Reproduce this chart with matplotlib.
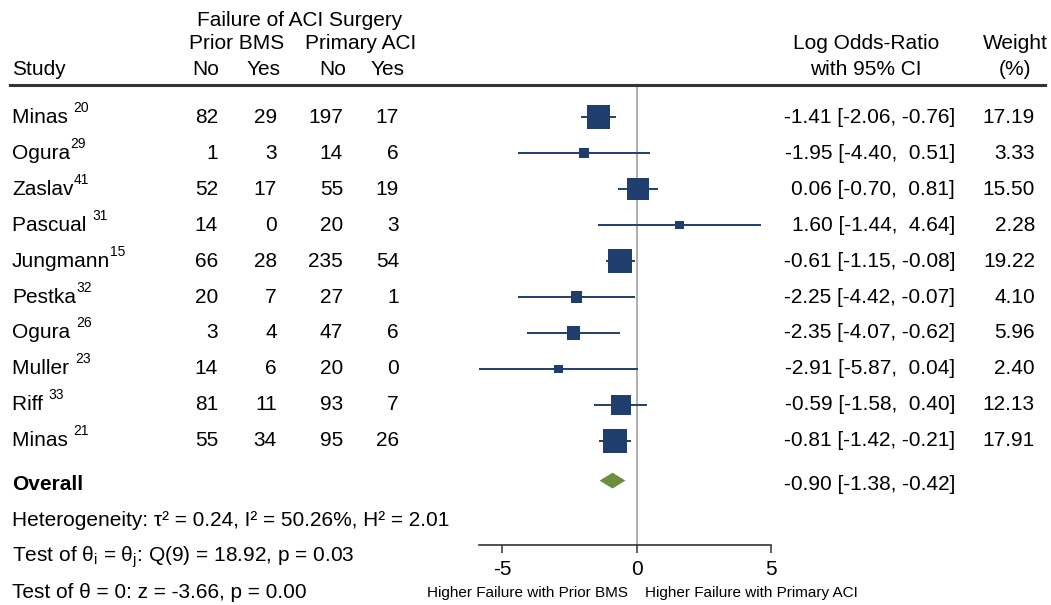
import matplotlib
matplotlib.use("Agg")
import matplotlib.pyplot as plt
import matplotlib.transforms as mtransforms
from matplotlib.lines import Line2D

plt.rcParams['font.family'] = ['Liberation Sans', 'DejaVu Sans']
plt.rcParams['mathtext.fontset'] = 'custom'
plt.rcParams['mathtext.rm'] = 'Liberation Sans'
plt.rcParams['mathtext.it'] = 'Liberation Sans'
plt.rcParams['mathtext.default'] = 'rm'

# data
studies = ["Minas ", "Ogura", "Zaslav", "Pascual ", "Jungmann", "Pestka", "Ogura ", "Muller ", "Riff ", "Minas "]
refs = ["20", "29", "41", "31", "15", "32", "26", "23", "33", "21"]
bms_no = [82, 1, 52, 14, 66, 20, 3, 14, 81, 55]
bms_yes = [29, 3, 17, 0, 28, 7, 4, 6, 11, 34]
aci_no = [197, 14, 55, 20, 235, 27, 47, 20, 93, 95]
aci_yes = [17, 6, 19, 3, 54, 1, 6, 0, 7, 26]
lor = [-1.41, -1.95, 0.06, 1.60, -0.61, -2.25, -2.35, -2.91, -0.59, -0.81]
ci_lo = [-2.06, -4.40, -0.70, -1.44, -1.15, -4.42, -4.07, -5.87, -1.58, -1.42]
ci_hi = [-0.76, 0.51, 0.81, 4.64, -0.08, -0.07, -0.62, 0.04, 0.40, -0.21]
weight = [17.19, 3.33, 15.50, 2.28, 19.22, 4.10, 5.96, 2.40, 12.13, 17.91]
overall = [-0.90, -1.38, -0.42]
xticks = [-5, 0, 5]

navy = "#1f3e6e"
FS = 15
W, H = 1051, 605
fig = plt.figure(figsize=(W / 100, H / 100), dpi=100)
ax = fig.add_axes([479 / W, 60 / H, 292 / W, 460 / H])
ax.set_xlim(min(ci_lo), 5)
ax.set_ylim(11.889, -0.889)
for s in ['top', 'right', 'left']:
    ax.spines[s].set_visible(False)
ax.spines['bottom'].set_color('#333333')
ax.spines['bottom'].set_linewidth(1.2)
ax.set_yticks([])
ax.set_xticks(xticks)
ax.set_xticklabels([str(t) for t in xticks])
ax.tick_params(axis='x', labelsize=FS, length=6, width=1.1, color='#333333', pad=5)

ax.axvline(0, color='#999999', lw=1.1, zorder=1)

rows = list(range(len(studies)))
ax.hlines(rows, ci_lo, ci_hi, color=navy, lw=1.4, zorder=2)
ax.scatter(lor, rows, s=[w * 16 for w in weight], marker='s', color=navy, zorder=3, linewidths=0)

r_ov = 10.1
dh = 0.22
ax.fill([overall[1], overall[0], overall[2], overall[0]],
        [r_ov, r_ov - dh, r_ov, r_ov + dh], color='#6b8f3c', zorder=3, lw=0)

tr = mtransforms.blended_transform_factory(fig.transFigure, ax.transData)

def put(px, r, s, ha='left', fs=FS, **kw):
    return ax.text(px / W, r, s, transform=tr, ha=ha, va='center', fontsize=fs, clip_on=False, **kw)

# header
put(300, -2.69, "Failure of ACI Surgery", ha='center')
put(237, -2.03, "Prior BMS", ha='center')
put(361, -2.03, "Primary ACI", ha='center')
put(12, -1.31, "Study")
put(206, -1.31, "No", ha='center')
put(264, -1.31, "Yes", ha='center')
put(333, -1.31, "No", ha='center')
put(388, -1.31, "Yes", ha='center')
put(866, -2.03, "Log Odds-Ratio", ha='center')
put(866, -1.31, "with 95% CI", ha='center')
put(1015, -2.03, "Weight", ha='center')
put(1015, -1.31, "(%)", ha='center')

fig.add_artist(Line2D([10 / W, 1045 / W], [1 - 85 / H, 1 - 85 / H],
                      transform=fig.transFigure, color='#333333', lw=2.2))

for i in rows:
    name = put(12, i, studies[i])
    ax.annotate(refs[i], xy=(1, 1), xycoords=name, xytext=(0, 0),
                textcoords='offset points', ha='left', va='center', fontsize=10)
    put(218, i, str(bms_no[i]), ha='right')
    put(277, i, str(bms_yes[i]), ha='right')
    put(343, i, str(aci_no[i]), ha='right')
    put(399, i, str(aci_yes[i]), ha='right')
    put(955, i, "%.2f [%.2f, %s]" % (lor[i], ci_lo[i], ("%.2f" % ci_hi[i]).rjust(5)), ha='right')
    put(1035, i, "%.2f" % weight[i], ha='right')

put(12, 10.22, "Overall", fontweight='bold')
put(955, 10.22, "%.2f [%.2f, %.2f]" % tuple(overall), ha='right')
put(12, 11.22, "Heterogeneity: τ² = 0.24, I² = 50.26%, H² = 2.01")
put(12, 12.22, r"Test of θ$_i$ = θ$_j$: Q(9) = 18.92, p = 0.03")
put(12, 13.22, "Test of θ = 0: z = -3.66, p = 0.00")

ax.annotate("Higher Failure with Prior BMS", xy=(0, 13.22), xytext=(-6, 0),
            textcoords='offset points', ha='right', va='center', fontsize=11, annotation_clip=False)
ax.annotate("Higher Failure with Primary ACI", xy=(0, 13.22), xytext=(6, 0),
            textcoords='offset points', ha='left', va='center', fontsize=11, annotation_clip=False)

fig.savefig("out.png", dpi=100)
